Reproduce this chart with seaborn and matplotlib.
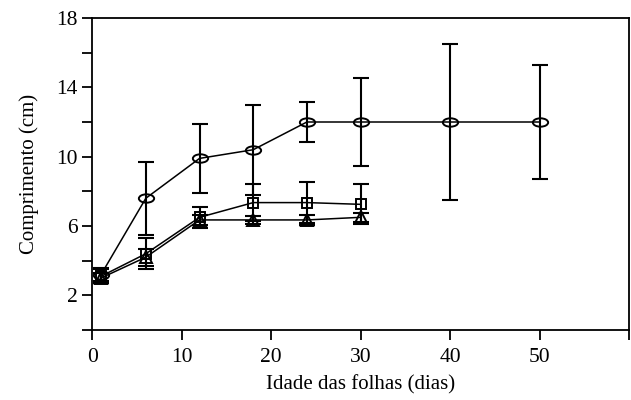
import pandas as pd
import numpy as np
import matplotlib.pyplot as plt
import seaborn as sns
from matplotlib.path import Path
from matplotlib.transforms import Affine2D

# leaf age (days)
dias_a = [1, 6, 12, 18, 24, 30, 40, 50]
dias_b = [1, 6, 12, 18, 24, 30]

# circle series
circ_y = [3.2, 7.6, 9.9, 10.4, 12.0, 12.0, 12.0, 12.0]
circ_err = [0.4, 2.1, 2.0, 2.6, 1.15, 2.55, 4.5, 3.3]
# square series
quad_y = [3.1, 4.4, 6.5, 7.35, 7.35, 7.25]
quad_err = [0.4, 0.9, 0.6, 1.05, 1.2, 1.15]
# triangle series
tri_y = [3.0, 4.2, 6.35, 6.35, 6.35, 6.5]
tri_err = [0.3, 0.5, 0.3, 0.25, 0.3, 0.25]

df = pd.concat([
    pd.DataFrame({'dias': dias_a, 'comp': circ_y, 'err': circ_err, 'serie': 'circ'}),
    pd.DataFrame({'dias': dias_b, 'comp': quad_y, 'err': quad_err, 'serie': 'quad'}),
    pd.DataFrame({'dias': dias_b, 'comp': tri_y, 'err': tri_err, 'serie': 'tri'}),
])

sns.set_style('ticks')
plt.rcParams['font.family'] = ['Liberation Serif', 'DejaVu Serif']
plt.rcParams['text.color'] = 'black'
plt.rcParams['axes.labelcolor'] = 'black'

fig = plt.figure(figsize=(6.31, 4.0), dpi=100)
ax = fig.add_axes([0.146, 0.175, 0.851, 0.78])

# flattened circle like the original
ellipse = Path.unit_circle().transformed(Affine2D().scale(1, 0.55))
markers = {'circ': (ellipse, 11), 'quad': ('s', 7.5), 'tri': ('^', 8)}
for s, g in df.groupby('serie'):
    ax.errorbar(g['dias'], g['comp'], yerr=g['err'], fmt='none', ecolor='black',
                elinewidth=1.5, capsize=5.5, capthick=1.5, zorder=2)
    m, ms = markers[s]
    sns.lineplot(data=g, x='dias', y='comp', ax=ax, color='black', linewidth=1.1,
                 marker=m, markersize=ms, markerfacecolor='none',
                 markeredgecolor='black', markeredgewidth=1.4, zorder=3)

ax.set_xlim(0, 60)
ax.set_ylim(0, 18)
ax.set_xticks(range(0, 61, 10))
ax.set_xticklabels(['0', '10', '20', '30', '40', '50', ''])
ax.set_yticks(range(0, 19, 2))
ax.set_yticklabels(['', '2', '', '6', '', '10', '', '14', '', '18'])
ax.tick_params(direction='out', length=7, width=1.3, labelsize=15.5, colors='black')
ax.tick_params(axis='x', pad=6)
for sp in ax.spines.values():
    sp.set_linewidth(1.3)
    sp.set_color('black')

ax.set_xlabel('Idade das folhas (dias)', fontsize=15, labelpad=6, color='black')
ax.set_ylabel('Comprimento (cm)', fontsize=15, labelpad=12, color='black')

fig.savefig('out.png', dpi=100)
